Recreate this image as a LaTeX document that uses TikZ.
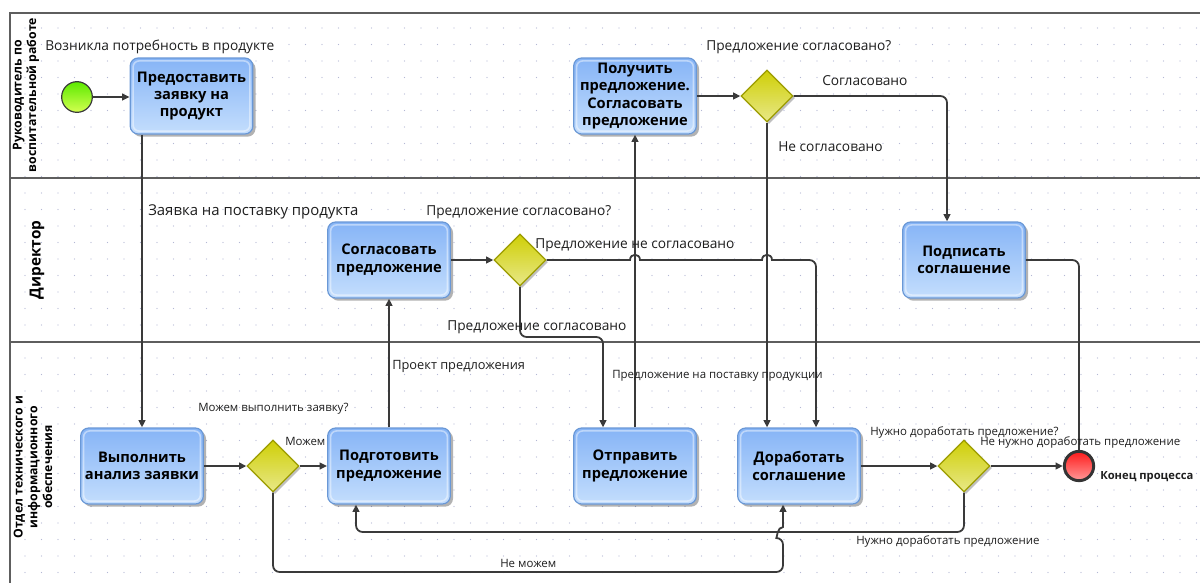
\documentclass[tikz,border=0pt]{standalone}
\usepackage{fontspec}
\setmainfont{Open Sans}
\usetikzlibrary{arrows.meta,shapes.geometric,shadows,calc}

\definecolor{griddot}{HTML}{B4B8D4}
\definecolor{poolline}{HTML}{5E5E5E}
\definecolor{flowline}{HTML}{3A3A3A}
\definecolor{taskborder}{HTML}{6A98D6}
\definecolor{tasktop}{HTML}{86B4F6}
\definecolor{taskbot}{HTML}{C4DEFD}
\definecolor{gwborder}{HTML}{9C9C00}
\definecolor{gwtop}{HTML}{CFCF06}
\definecolor{gwbot}{HTML}{E8E888}
\definecolor{starttop}{HTML}{5CEA00}
\definecolor{startbot}{HTML}{D4FF50}
\definecolor{endtop}{HTML}{FF1A1A}
\definecolor{endbot}{HTML}{FF9A9A}
\definecolor{labeltext}{HTML}{1E1E1E}

\tikzset{
  task/.style={rounded corners=6pt, draw=taskborder, line width=0.9pt,
    top color=tasktop, bottom color=taskbot,
    minimum width=92pt, minimum height=57pt, inner sep=1pt, align=center,
    font=\bfseries\fontsize{11}{13}\selectfont,
    drop shadow={shadow xshift=2pt, shadow yshift=-2pt, opacity=0.3, fill=black},
    path picture={\draw[white, opacity=0.45, line width=1.2pt, rounded corners=4.5pt]
      ([shift={(2.2pt,2.2pt)}]path picture bounding box.south west) rectangle
      ([shift={(-2.2pt,-2.2pt)}]path picture bounding box.north east);}},
  gateway/.style={diamond, aspect=1, draw=gwborder, line width=0.9pt,
    top color=gwtop, bottom color=gwbot,
    minimum width=39pt, minimum height=39pt, inner sep=0pt,
    drop shadow={shadow xshift=1.5pt, shadow yshift=-1.5pt, opacity=0.25, fill=black}},
  startev/.style={circle, draw=flowline, line width=0.9pt,
    top color=starttop, bottom color=startbot, minimum size=23pt, inner sep=0pt},
  endev/.style={circle, draw=flowline!90!black, line width=2.2pt,
    top color=endtop, bottom color=endbot, minimum size=22pt, inner sep=0pt},
  flow/.style={draw=flowline, line width=1.35pt,
    -{Triangle[length=5.5pt,width=5pt]}},
  plainflow/.style={draw=flowline, line width=1.35pt},
  lbl/.style={anchor=west, inner sep=0pt, text=labeltext,
    font=\fontsize{10.3}{12}\selectfont},
  slbl/.style={anchor=west, inner sep=0pt, text=labeltext,
    font=\fontsize{8.6}{10}\selectfont},
  lanetitle/.style={rotate=90, align=center, inner sep=0pt, text=black,
    font=\bfseries\fontsize{9.2}{11}\selectfont},
  pool/.style={draw=poolline, line width=1.2pt}
}

\begin{document}
\begin{tikzpicture}[x=0.75pt, y=-0.75pt]
\useasboundingbox (0,0) rectangle (1200,583);
\fill[white] (0,0) rectangle (1200,583);

% dotted background grid
\foreach \i in {0,...,71}{
  \foreach \j in {0,...,33}{
    \fill[griddot] (25+16.5*\i, 28+16.5*\j) circle (0.45pt);
  }
}

% pool and lanes
\draw[pool] (1200,13) -- (10,13) -- (10,583);
\draw[pool] (10,178) -- (1200,178);
\draw[pool] (10,342) -- (1200,342);

\node[lanetitle] (L1) at (26,95) {Руководитель по\\воспитательной работе};
\node[lanetitle, font=\bfseries\fontsize{11.5}{13}\selectfont] (L2) at (37,260) {Директор};
\node[lanetitle] (L3) at (33,467) {Отдел технического и\\информационного\\обеспечения};

% events
\node[startev] (S) at (77,97) {};
\node[endev] (E) at (1079,466) {};

% tasks
\node[task] (T1) at (191.5,96) {Предоставить\\заявку на\\продукт};
\node[task] (T2) at (635,96) {Получить\\предложение.\\Согласовать\\предложение};
\node[task] (T3) at (389,260) {Согласовать\\предложение};
\node[task] (T4) at (964,260) {Подписать\\соглашение};
\node[task] (T5) at (142,466) {Выполнить\\анализ заявки};
\node[task] (T6) at (389,466) {Подготовить\\предложение};
\node[task] (T7) at (635,466) {Отправить\\предложение};
\node[task] (T8) at (799,466) {Доработать\\соглашение};

% gateways
\node[gateway] (G1) at (767,96) {};
\node[gateway] (G2) at (520,260) {};
\node[gateway] (G3) at (273,466) {};
\node[gateway] (G4) at (964,466) {};

% bend points
\coordinate (k1) at (603,337);
\coordinate (k2) at (947,96);
\coordinate (k3) at (1079,260);
\coordinate (k4) at (816,260);
\coordinate (k5) at (964,532);
\coordinate (k6) at (356,532);
\coordinate (k7) at (273,572);
\coordinate (k8) at (783,572);

% sequence flows
\draw[flow] (S) -- (S -| T1.west);
\draw[flow] (T1.south -| T5.north) -- (T5.north);
\draw[flow] (T5) -- (G3);
\draw[flow] (G3) -- (T6);
\draw[flow] (T6.north) -- (T3.south);
\draw[flow] (T3) -- (G2);
\draw[flow] (T7.north) -- (T2.south);
\draw[flow] (T2) -- (G1);
\draw[flow, rounded corners=5pt] (G1.east) -- (k2) -- (k2 |- T4.north);
\draw[flow] (G1.south) -- (G1.south |- T8.north);
\draw[flow, rounded corners=5pt] (G2.south) |- (k1) -- (k1 |- T7.north);
\draw[flow] (G2.east) -- (630,260) .. controls (630,253) and (640,253) .. (640,260)
  -- (762,260) .. controls (762,253) and (772,253) .. (772,260)
  [rounded corners=5pt] -- (k4) -- (k4 |- T8.north);
\draw[plainflow, rounded corners=5pt] (T4.east) -- (k3) -- (E.north);
\draw[flow] (T8) -- (G4);
\draw[flow] (G4) -- (E);
\draw[flow, rounded corners=5pt] (G4.south) -- (k5) -- (k6) -- (k6 |- T6.south);
\draw[flow] (G3.south) [rounded corners=5pt] -- (k7) -- (k8) -- (783,538)
  [sharp corners] .. controls (777,538) and (777,527) .. (783,527) -- (k8 |- T8.south);

% labels
\node[lbl] (a1) at (45,47) {Возникла потребность в продукте};
\node[lbl] (a2) at (706,47) {Предложение согласовано?};
\node[lbl] (a3) at (822,81) {Согласовано};
\node[lbl] (a4) at (778,147) {Не согласовано};
\node[lbl, font=\fontsize{11.2}{13}\selectfont] (a5) at (148,212) {Заявка на поставку продукта};
\node[lbl] (a6) at (426,212) {Предложение согласовано?};
\node[lbl] (a7) at (535,245) {Предложение не согласовано};
\node[lbl] (a8) at (447,327) {Предложение согласовано};
\node[slbl, font=\fontsize{9.6}{11}\selectfont] (a9) at (392,366) {Проект предложения};
\node[slbl] (a10) at (612,376) {Предложение на поставку продукции};
\node[slbl] (a11) at (198,409) {Можем выполнить заявку?};
\node[slbl] (a12) at (285,441) {Можем};
\node[slbl] (a13) at (870,432) {Нужно доработать предложение?};
\node[slbl] (a14) at (980,442) {Не нужно доработать предложение};
\node[slbl, font=\bfseries\fontsize{8.4}{10}\selectfont] (a15) at (1100,477) {Конец процесса};
\node[slbl] (a16) at (856,541) {Нужно доработать предложение};
\node[slbl] (a17) at (500,563) {Не можем};
\end{tikzpicture}
\end{document}
